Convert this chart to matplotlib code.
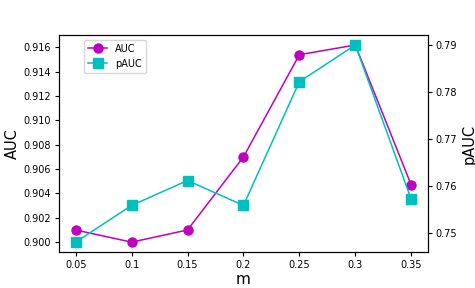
import matplotlib
matplotlib.use("Agg")
import matplotlib.pyplot as plt

m_values = [0.05, 0.1, 0.15, 0.2, 0.25, 0.3, 0.35]
auc = [0.901, 0.900, 0.901, 0.907, 0.9154, 0.9162, 0.9047]
pauc = [0.7481, 0.7559, 0.7612, 0.7559, 0.7822, 0.7900, 0.7572]
x_ticks = ["0.05", "0.1", "0.15", "0.2", "0.25", "0.3", "0.35"]

fig, ax1 = plt.subplots(figsize=(4.75, 2.88), dpi=100)
fig.subplots_adjust(left=0.124, right=0.901, top=0.878, bottom=0.125)

l1, = ax1.plot(m_values, auc, color="m", marker="o", markersize=6.5, linewidth=1.1, label="AUC")
ax1.set_ylabel("AUC", fontsize=10.5, labelpad=3)
ax1.set_xlabel("m", fontsize=11, labelpad=1.5)
ax1.set_xticks(m_values)
ax1.set_xticklabels(x_ticks)
ax1.tick_params(labelsize=7, length=3, pad=2.5)
ax1.set_yticks([0.900, 0.902, 0.904, 0.906, 0.908, 0.910, 0.912, 0.914, 0.916])

ax2 = ax1.twinx()
l2, = ax2.plot(m_values, pauc, color="c", marker="s", markersize=7.5, linewidth=1.1, label="pAUC")
ax2.set_ylabel("pAUC", fontsize=10.5, labelpad=3)
ax2.tick_params(labelsize=7, length=3, pad=2.5)
ax2.set_yticks([0.75, 0.76, 0.77, 0.78, 0.79])

ax1.legend(handles=[l1, l2], loc="upper left", bbox_to_anchor=(0.055, 1.0), fontsize=7)

fig.savefig("out.png", dpi=100)
